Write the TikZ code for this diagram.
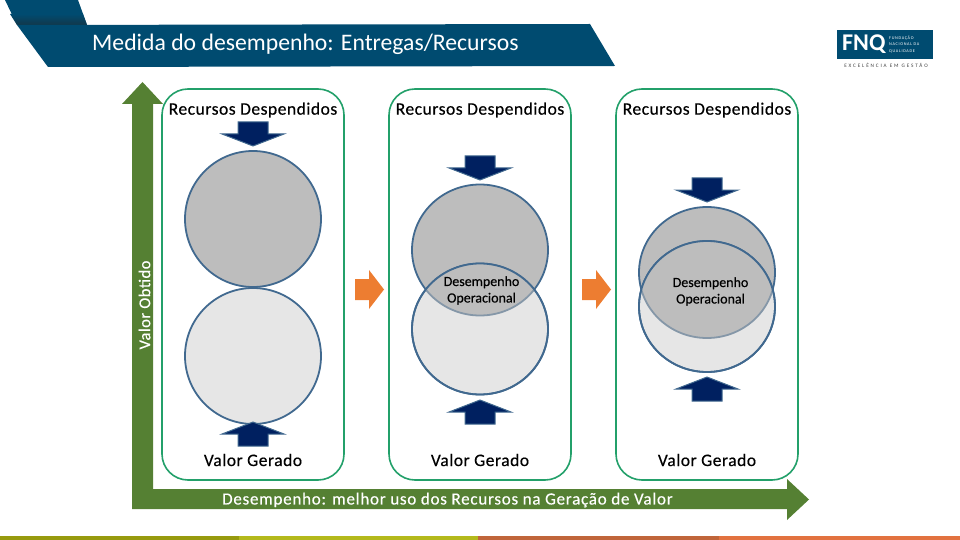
\documentclass[tikz,border=0pt]{standalone}
\usepackage{fontspec}
\setmainfont{Carlito}
\usepackage{xcolor}
\usepackage{tikz}
\usetikzlibrary{positioning}
\definecolor{headblue}{HTML}{004B70}
\definecolor{headdark}{HTML}{12374A}
\definecolor{axisgreen}{HTML}{558033}
\definecolor{boxgreen}{HTML}{23A06A}
\definecolor{navy}{HTML}{002060}
\definecolor{edgeblue}{HTML}{41698F}
\definecolor{lightedge}{HTML}{8597A8}
\definecolor{topgrey}{HTML}{BDBDBD}
\definecolor{lowgrey}{HTML}{E6E6E6}
\definecolor{stepsorange}{HTML}{ED7D31}
\definecolor{stripa}{HTML}{979A0E}
\definecolor{stripb}{HTML}{B4B91C}
\definecolor{stripc}{HTML}{C0653A}
\definecolor{stripd}{HTML}{E2723F}
\tikzset{panel/.style={draw=boxgreen,line width=1.6pt,rounded corners=26pt},
  toplabel/.style={font=\fontsize{17.5}{19}\selectfont\addfontfeature{LetterSpace=3,FakeBold=0.4}},
  midlabel/.style={font=\fontsize{14}{16.5}\selectfont\addfontfeature{FakeBold=0.4},align=center},
  flowarrow/.style={fill=navy,draw=edgeblue,line width=1pt,line join=miter},
  circleedge/.style={draw=edgeblue,line width=1.8pt}}
% one panel: centre x, y of grey circle, y of light circle
\newcommand{\overlapcircles}[3]{
  \draw[circleedge,fill=topgrey] (#1,#2) ellipse (68 and 65.5);
  \draw[circleedge,fill=lowgrey] (#1,#3) ellipse (68 and 65.5);
  \begin{scope}
    \clip (#1,#3) ellipse (68 and 65.5);
    \draw[draw=lightedge,line width=1.8pt,fill=topgrey] (#1,#2) ellipse (68 and 65.5);
  \end{scope}
  \draw[circleedge] (#1,#3) ellipse (68 and 65.5);
}
\newcommand{\spenddown}[2]{
  \draw[flowarrow] (#1-15,#2) -- (#1+15,#2) -- (#1+15,#2+12) -- (#1+31,#2+12) -- (#1,#2+24) -- (#1-31,#2+12) -- (#1-15,#2+12) -- cycle;
}
\newcommand{\valueup}[2]{
  \draw[flowarrow] (#1-15,#2) -- (#1+15,#2) -- (#1+15,#2-12) -- (#1+31,#2-12) -- (#1,#2-24) -- (#1-31,#2-12) -- (#1-15,#2-12) -- cycle;
}
\begin{document}
\begin{tikzpicture}[x=1pt,y=-1pt]
  \useasboundingbox (0,0) rectangle (960,540);

  % header
  \fill[headblue] (5,0) -- (78,0) -- (87,25) -- (17,25) -- cycle;
  \shade[top color=headblue,bottom color=headdark] (10,14) -- (83,14) -- (87,25) -- (17,25) -- cycle;
  \fill[headblue] (17,25) -- (590,24) -- (615,66) -- (48,67) -- cycle;
  \node[text=white,anchor=west,inner sep=0pt,font=\fontsize{23.7}{26}\selectfont] (title) at (92,44.5) {Medida do desempenho: Entregas/Recursos};

  % logo
  \fill[headblue] (837,30) rectangle (933,59);
  \node[text=white,anchor=west,inner sep=0pt,font=\fontsize{24}{24}\selectfont\bfseries] (fnq) at (842,44.5) {FNQ};
  \node[text=white,anchor=west,inner sep=0pt,align=left,font=\fontsize{4.2}{6.6}\selectfont\addfontfeature{LetterSpace=16}] (fnqname) at (889,44.5) {FUNDAÇÃO\\NACIONAL DA\\QUALIDADE};
  \node[text=black!75,inner sep=0pt,font=\fontsize{5.2}{6}\selectfont\addfontfeature{LetterSpace=36}] (fnqslogan) at (886,65) {EXCELÊNCIA EM GESTÃO};

  % axes
  \fill[axisgreen] (132,509) -- (132,104) -- (122,104) -- (142.5,82) -- (163,104) -- (153,104) -- (153,489)
    -- (787,489) -- (787,479) -- (809,499.5) -- (787,520) -- (787,509) -- cycle;
  \node[text=white,rotate=90,inner sep=0pt,font=\fontsize{16.5}{18}\selectfont\addfontfeature{LetterSpace=3,FakeBold=0.3}] (valorobtido) at (144.5,305) {Valor Obtido};
  \node[text=white,anchor=west,inner sep=0pt,font=\fontsize{17}{19}\selectfont\addfontfeature{LetterSpace=4.4,FakeBold=0.4}] (desempenho) at (222,500) {Desempenho: melhor uso dos Recursos na Geração de Valor};

  % panels
  \foreach \x/\n in {253/a,480/b,707/c}{
    \draw[panel] (\x-91,89) rectangle (\x+91,480);
    \node[toplabel,inner sep=0pt] (recursos\n) at (\x,110) {Recursos Despendidos};
    \node[toplabel,inner sep=0pt] (valor\n) at (\x,460) {Valor Gerado};
  }

  % first panel, no overlap
  \draw[circleedge,fill=topgrey] (253,219) ellipse (68 and 68);
  \draw[circleedge,fill=lowgrey] (253,356) ellipse (68 and 68);
  \spenddown{253}{122}
  \valueup{253}{446}

  % second panel
  \overlapcircles{480}{250}{329}
  \spenddown{480}{156}
  \valueup{480}{424}
  \node[midlabel,inner sep=0pt] (operb) at (481.5,290.5) {Desempenho\\Operacional};

  % third panel
  \overlapcircles{707}{272.5}{306.5}
  \spenddown{707}{178}
  \valueup{707}{401}
  \node[midlabel,inner sep=0pt] (operc) at (710.5,291.5) {Desempenho\\Operacional};

  % steps between panels
  \foreach \x in {355,582}{
    \fill[stepsorange] (\x,279) -- (\x+14,279) -- (\x+14,270) -- (\x+29,289.5) -- (\x+14,309) -- (\x+14,300) -- (\x,300) -- cycle;
  }

  % bottom strip
  \fill[stripa] (0,536) rectangle (239,540);
  \fill[stripb] (239,536) rectangle (478,540);
  \fill[stripc] (478,536) rectangle (719,540);
  \fill[stripd] (719,536) rectangle (960,540);
\end{tikzpicture}
\end{document}
